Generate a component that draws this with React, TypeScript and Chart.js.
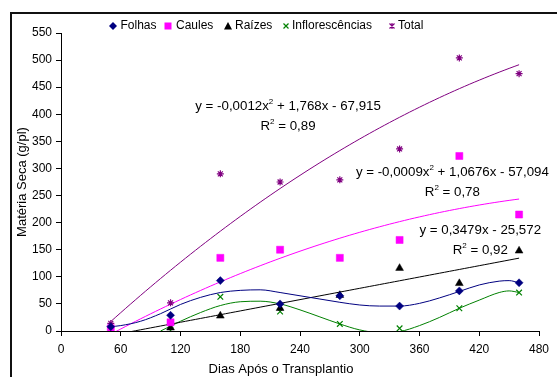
import React, { useEffect, useRef } from 'react';
import { Chart, registerables } from 'chart.js';

Chart.register(...registerables);

const FONT = "'Liberation Sans', Arial, sans-serif";

// Observed data (days after transplanting)
const days = [50, 110, 160, 220, 280, 340, 400, 460];
const folhas = [8, 29, 93, 50, 65, 46, 74, 89];
const caules = [5, 16, 135, 150, 135, 168, 323, 215];
const raizes = [0, 6, 28, 42, 66, 116, 88, 148];
const inflorescencias = [0, 1, 63, 36, 13, 5, 42, 71];
const total = [14, 52, 290, 275, 279, 336, 504, 475];

// Trend-line equations shown on the chart (a·x² + b·x + c)
const totalFit = [-0.0012, 1.768, -67.915];
const caulesFit = [-0.0009, 1.0676, -57.094];
const raizesFit = [0, 0.3479, -25.572];
const fitRange = [50, 460];

// Smooth trend curves
const folhasCurveX = [50, 60, 80, 100, 120, 140, 160, 180, 200, 220, 240, 260, 280, 300, 320, 340, 360, 380, 400, 420, 440, 450, 460];
const folhasCurveY = [8, 10, 18, 32, 49, 62, 71, 75, 76, 71, 65, 59, 53, 48, 46, 46, 51, 61, 73, 85, 92, 93, 89];
const inflorCurveX = [100, 110, 120, 140, 160, 180, 200, 220, 240, 260, 280, 300, 320, 340, 360, 380, 400, 420, 440, 450, 460];
const inflorCurveY = [0, 9, 18, 34, 47, 54, 55, 50, 39, 26, 13, 2, -3, -1, 10, 25, 42, 57, 71, 74, 71];

const seriesNames = ['Folhas', 'Caules', 'Raízes', 'Inflorescências', 'Total'];
const seriesColors = ['#000080', '#FF00FF', '#000000', '#008000', '#800080'];

const equationTexts = [
  [['y = -0,0012x', '2', ' + 1,768x - 67,915'], ['R', '2', ' = 0,89']],
  [['y = -0,0009x', '2', ' + 1,0676x - 57,094'], ['R', '2', ' = 0,78']],
  [['y = 0,3479x - 25,572'], ['R', '2', ' = 0,92']],
];
const equationAnchors = [
  { x: 228, y: 415 },
  { x: 393, y: 293 },
  { x: 421, y: 185 },
];

const legendMarkerX = [113, 168, 228, 286, 392];
const legendTextX = [120.5, 176, 235, 292, 398];

function pts(xs: number[], ys: number[]) {
  return xs.map((x, i) => ({ x, y: ys[i] }));
}

function fitPoints(c: number[]) {
  const out: { x: number; y: number }[] = [];
  for (let x = fitRange[0]; x <= fitRange[1]; x += 5) {
    out.push({ x, y: c[0] * x * x + c[1] * x + c[2] });
  }
  return out;
}

function drawMarker(ctx: CanvasRenderingContext2D, kind: number, x: number, y: number) {
  const color = seriesColors[kind];
  ctx.fillStyle = color;
  ctx.strokeStyle = color;
  ctx.lineWidth = 1.2;
  ctx.beginPath();
  if (kind === 0) {
    ctx.moveTo(x, y - 4); ctx.lineTo(x + 4, y); ctx.lineTo(x, y + 4); ctx.lineTo(x - 4, y); ctx.closePath(); ctx.fill();
  } else if (kind === 1) {
    ctx.fillRect(x - 3.5, y - 3.5, 7, 7);
  } else if (kind === 2) {
    ctx.moveTo(x, y - 4); ctx.lineTo(x + 4, y + 3.5); ctx.lineTo(x - 4, y + 3.5); ctx.closePath(); ctx.fill();
  } else if (kind === 3) {
    ctx.moveTo(x - 2.5, y - 2.5); ctx.lineTo(x + 2.5, y + 2.5);
    ctx.moveTo(x + 2.5, y - 2.5); ctx.lineTo(x - 2.5, y + 2.5); ctx.stroke();
  } else {
    ctx.moveTo(x - 2.5, y - 2.5); ctx.lineTo(x + 2.5, y + 2.5);
    ctx.moveTo(x + 2.5, y - 2.5); ctx.lineTo(x - 2.5, y + 2.5);
    ctx.moveTo(x, y - 3); ctx.lineTo(x, y + 3); ctx.stroke();
  }
}

function drawParts(ctx: CanvasRenderingContext2D, parts: string[], cx: number, cy: number, size: number) {
  const main = `${size}px ${FONT}`;
  const sup = `${Math.round(size * 0.62)}px ${FONT}`;
  const widths = parts.map((p, i) => {
    ctx.font = i % 2 === 1 ? sup : main;
    return ctx.measureText(p).width;
  });
  const totalW = widths.reduce((a, b) => a + b, 0);
  let x = cx - totalW / 2;
  parts.forEach((p, i) => {
    ctx.font = i % 2 === 1 ? sup : main;
    ctx.fillText(p, x, i % 2 === 1 ? cy - 4.5 : cy);
    x += widths[i];
  });
}

const overlay = {
  id: 'overlay',
  afterDraw(chart: any) {
    const ctx: CanvasRenderingContext2D = chart.ctx;
    const xs = chart.scales.x;
    const ys = chart.scales.y;
    ctx.save();
    // legend
    ctx.textBaseline = 'middle';
    ctx.textAlign = 'left';
    seriesNames.forEach((name, i) => {
      drawMarker(ctx, i, legendMarkerX[i], 26);
      ctx.fillStyle = '#000';
      ctx.font = `12px ${FONT}`;
      ctx.fillText(name, legendTextX[i], 26);
    });
    // equations
    ctx.fillStyle = '#000';
    equationTexts.forEach((lines, i) => {
      const cx = xs.getPixelForValue(equationAnchors[i].x);
      const cy = ys.getPixelForValue(equationAnchors[i].y);
      drawParts(ctx, lines[0], cx, cy, 13.3);
      drawParts(ctx, lines[1], cx, cy + 20, 13.3);
    });
    // axis titles
    ctx.font = `13px ${FONT}`;
    ctx.textAlign = 'center';
    ctx.fillText('Dias Após o Transplantio', 281, 369);
    ctx.translate(22.5, (ys.top + ys.bottom) / 2);
    ctx.rotate(-Math.PI / 2);
    ctx.fillText('Matéria Seca (g/pl)', 0, 0);
    ctx.restore();
  },
};

export default function App() {
  const ref = useRef<HTMLCanvasElement | null>(null);

  useEffect(() => {
    if (!ref.current) return;
    const pointDs = (i: number, data: number[], style: string, radius: number, bw: number) => ({
      label: seriesNames[i],
      data: pts(days, data),
      showLine: false,
      pointStyle: style,
      pointRadius: radius,
      pointHoverRadius: radius,
      pointBackgroundColor: seriesColors[i],
      pointBorderColor: seriesColors[i],
      pointBorderWidth: bw,
      borderColor: seriesColors[i],
      backgroundColor: seriesColors[i],
    });
    const lineDs = (i: number, data: { x: number; y: number }[], smooth: boolean) => ({
      label: seriesNames[i] + ' trend',
      data,
      showLine: true,
      pointRadius: 0,
      pointHoverRadius: 0,
      borderColor: seriesColors[i],
      backgroundColor: seriesColors[i],
      borderWidth: 1,
      tension: smooth ? 0.4 : 0,
      cubicInterpolationMode: smooth ? 'monotone' : 'default',
      fill: false,
    });

    const chart = new Chart(ref.current, {
      type: 'scatter',
      data: {
        datasets: [
          pointDs(0, folhas, 'rectRot', 4, 0.5),
          pointDs(1, caules, 'rect', 5, 0.5),
          pointDs(2, raizes, 'triangle', 4.5, 0.5),
          pointDs(3, inflorescencias, 'crossRot', 4, 1.2),
          pointDs(4, total, 'star', 3.5, 1.2),
          lineDs(0, pts(folhasCurveX, folhasCurveY), true),
          lineDs(1, fitPoints(caulesFit), false),
          lineDs(2, fitPoints(raizesFit), false),
          lineDs(3, pts(inflorCurveX, inflorCurveY), true),
          lineDs(4, fitPoints(totalFit), false),
        ] as any,
      },
      options: {
        animation: false,
        responsive: false,
        devicePixelRatio: 1,
        layout: { padding: { left: 10, right: 18, top: 33, bottom: 0 } },
        plugins: {
          legend: { display: false },
          tooltip: { enabled: false },
        },
        scales: {
          x: {
            type: 'linear',
            min: 0,
            max: 480,
            ticks: { stepSize: 60, color: '#000', font: { family: FONT, size: 12 }, padding: 6, maxRotation: 0 },
            grid: { display: true, drawOnChartArea: false, drawTicks: true, tickLength: 5, color: '#000' },
            border: { display: true, color: '#000', width: 1 },
            afterFit: (s: any) => { s.height = 46; },
          },
          y: {
            type: 'linear',
            min: 0,
            max: 550,
            ticks: { stepSize: 50, color: '#000', font: { family: FONT, size: 12 }, padding: 4 },
            grid: { display: true, drawOnChartArea: false, drawTicks: true, tickLength: 5, color: '#000' },
            border: { display: true, color: '#000', width: 1 },
            afterFit: (s: any) => { s.width = 51; },
          },
        },
      } as any,
      plugins: [overlay],
    });
    return () => chart.destroy();
  }, []);

  return (
    <div style={{ position: 'fixed', left: 0, top: 0, width: 557, height: 377, background: '#fff', overflow: 'hidden' }}>
      <div style={{ position: 'absolute', left: 10, top: 12, width: 700, height: 500, borderTop: '2px solid #111', borderLeft: '2px solid #111' }} />
      <canvas ref={ref} width={557} height={377} style={{ position: 'absolute', left: 0, top: 0 }} />
    </div>
  );
}
